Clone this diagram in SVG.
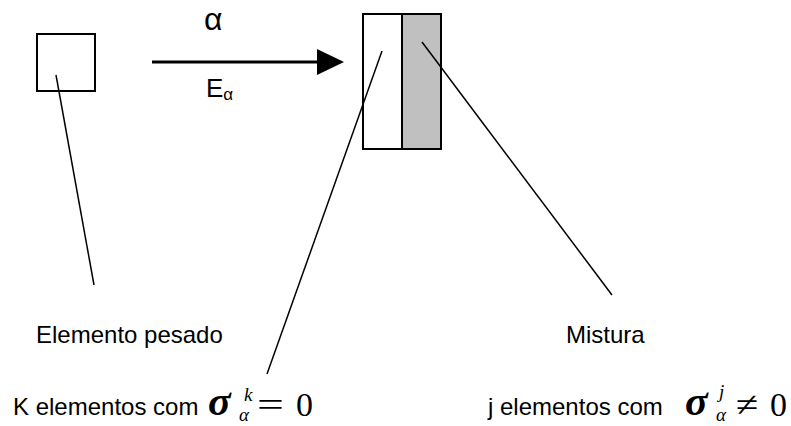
<svg xmlns="http://www.w3.org/2000/svg" width="791" height="426" viewBox="0 0 791 426">
<style>
.box{fill:#fff;stroke:#000;stroke-width:2}
.gray{fill:#c0c0c0;stroke:#000;stroke-width:2}
.ln{stroke:#000;stroke-width:1.5;fill:none}
.t{font-family:"Liberation Sans",Arial,sans-serif;font-size:24px;fill:#000}
.sig{font-family:"Liberation Serif","Times New Roman",serif;font-size:42px;font-style:italic;font-weight:bold;fill:#000}
.sc{font-family:"Liberation Serif","Times New Roman",serif;font-size:19px;font-style:italic;fill:#000}
.op{font-family:"Liberation Serif","Times New Roman",serif;font-size:34px;fill:#000}
</style>
<rect width="791" height="426" fill="#fff"/>
<g id="elemento">
<rect class="box" x="37" y="34" width="58" height="57"/>
</g>
<g id="mistura">
<rect class="box" x="363" y="14" width="39" height="135"/>
<rect class="gray" x="402" y="14" width="39" height="135"/>
</g>
<g id="connectors">
<line x1="152" y1="62" x2="318" y2="62" stroke="#000" stroke-width="3"/>
<polygon points="317,49 344,62 317,75" fill="#000"/>
<line class="ln" x1="56" y1="75" x2="94" y2="285"/>
<line class="ln" x1="382" y1="51" x2="267" y2="374"/>
<line class="ln" x1="422" y1="42" x2="612" y2="295"/>
</g>
<g id="labels">
<text class="t" x="204" y="30" style="font-size:32px">α</text>
<text class="t" x="206" y="97" style="font-size:26px">E<tspan style="font-size:17px" dy="3">α</tspan></text>
<text class="t" x="36" y="343">Elemento pesado</text>
<text class="t" x="566" y="343">Mistura</text>
<text class="t" x="13" y="415">K elementos com</text>
<text class="sig" x="208" y="415">σ</text>
<text class="sc" x="244" y="401">k</text>
<text class="sc" x="239" y="421">α</text>
<text class="op" x="257" y="416" transform="translate(257 0) scale(1.4 1) translate(-257 0)">=</text>
<text class="op" x="296" y="416">0</text>
<text class="t" x="488" y="415">j elementos com</text>
<text class="sig" x="685" y="415">σ</text>
<text class="sc" x="719" y="398">j</text>
<text class="sc" x="716" y="421">α</text>
<text class="op" x="736" y="416" transform="translate(736 0) scale(1.2 1) translate(-736 0)">≠</text>
<text class="op" x="770" y="416">0</text>
</g>
</svg>
